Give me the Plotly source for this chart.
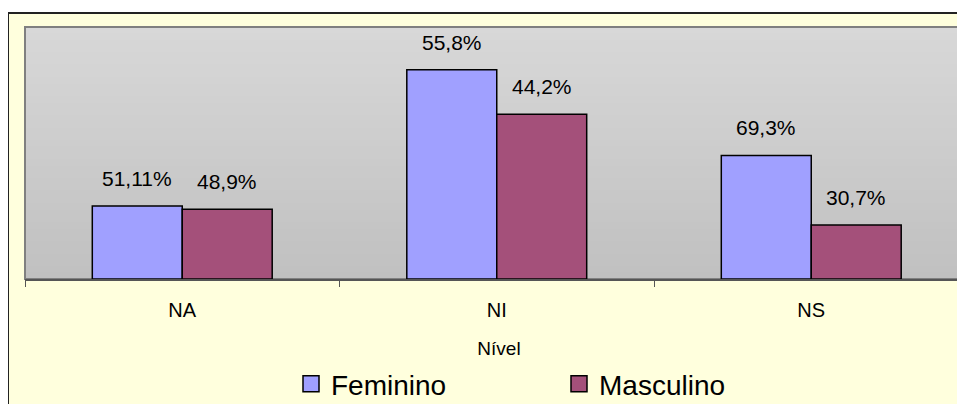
import plotly.graph_objects as go

niveis = ['NA', 'NI', 'NS']
feminino = [23, 66, 39]
masculino = [22, 52, 17]
rotulos_fem = ['51,11%', '55,8%', '69,3%']
rotulos_masc = ['48,9%', '44,2%', '30,7%']

COR_FEM = '#A0A0FF'
COR_MASC = '#A4507A'
FONTE = 'Liberation Sans, Arial, sans-serif'

# a pagina desloca a figura 8 px (margem do body)
O = 8
W, H = 965, 404
L, T, B = 25 - O, 27 - O, H - (279 - O)
PW, PH = W - L, H - T - B


def px(x):
    return (x - O - L) / PW


def py(y):
    return (H - B - (y - O)) / PH


fig = go.Figure()

fig.add_trace(go.Bar(
    x=niveis, y=feminino, name='Feminino',
    marker=dict(color=COR_FEM, line=dict(color='black', width=1.5)),
    showlegend=False, hoverinfo='skip'
))
fig.add_trace(go.Bar(
    x=niveis, y=masculino, name='Masculino',
    marker=dict(color=COR_MASC, line=dict(color='black', width=1.5)),
    showlegend=False, hoverinfo='skip'
))

# itens de legenda com marcador maior
for nome, cor in [('Feminino', COR_FEM), ('Masculino', COR_MASC)]:
    fig.add_trace(go.Scatter(
        x=[None], y=[None], mode='markers', name=nome,
        marker=dict(symbol='square', size=16, color=cor,
                    line=dict(color='black', width=1.5))
    ))

# rotulos de porcentagem acima das barras
anotacoes = []
for serie, rotulos, desloc in [(feminino, rotulos_fem, -45), (masculino, rotulos_masc, 45)]:
    for cat, val, txt in zip(niveis, serie, rotulos):
        anotacoes.append(dict(
            x=cat, y=val, text=txt, showarrow=False,
            xshift=desloc, yanchor='bottom', yshift=14,
            font=dict(family=FONTE, size=21, color='black')
        ))

# fundo da area do grafico e gradiente da area de plotagem
formas = [dict(
    type='rect', xref='paper', yref='paper', layer='below',
    x0=px(8), x1=px(W + 20), y0=py(H + 20), y1=py(13),
    fillcolor='#FFFFDD', line=dict(color='#222222', width=2)
)]
n = 40
for i in range(n):
    c = round(192 + (216 - 192) * (i + 0.5) / n)
    formas.append(dict(
        type='rect', xref='paper', yref='paper', layer='below',
        x0=0, x1=1.01, y0=i / n, y1=min(1, (i + 1.6) / n),
        fillcolor=f'rgb({c},{c},{c})', line=dict(width=0)
    ))
formas.append(dict(
    type='rect', xref='paper', yref='paper', layer='below',
    x0=0, x1=1.01, y0=0, y1=1,
    fillcolor='rgba(0,0,0,0)', line=dict(color='#808080', width=2)
))

fig.update_layout(
    width=W, height=H,
    margin=dict(l=L, r=0, t=T, b=B, autoexpand=False),
    paper_bgcolor='white',
    plot_bgcolor='rgba(0,0,0,0)',
    barmode='group', bargap=0.428, bargroupgap=0,
    shapes=formas,
    annotations=anotacoes,
    font=dict(family=FONTE, color='black'),
    showlegend=True,
    legend=dict(
        orientation='h', x=px(291), y=py(384), xanchor='left', yanchor='middle',
        font=dict(family=FONTE, size=28, color='black'),
        bgcolor='rgba(0,0,0,0)', entrywidth=223, itemclick=False,
        itemdoubleclick=False
    ),
    xaxis=dict(
        range=[-0.5, -0.5 + PW / 314.5], tickson='boundaries',
        ticks='outside', ticklen=6, tickcolor='#555555', tickwidth=1,
        showline=True, linecolor='#555555', linewidth=1.5,
        showgrid=False, zeroline=False,
        tickfont=dict(family=FONTE, size=20, color='black'),
        ticklabelstandoff=12,
        title=dict(text='Nível', font=dict(family=FONTE, size=19, color='black'),
                   standoff=22)
    ),
    yaxis=dict(range=[0, 79.5], visible=False, showgrid=False, zeroline=False),
)

fig.write_html('out.html')
